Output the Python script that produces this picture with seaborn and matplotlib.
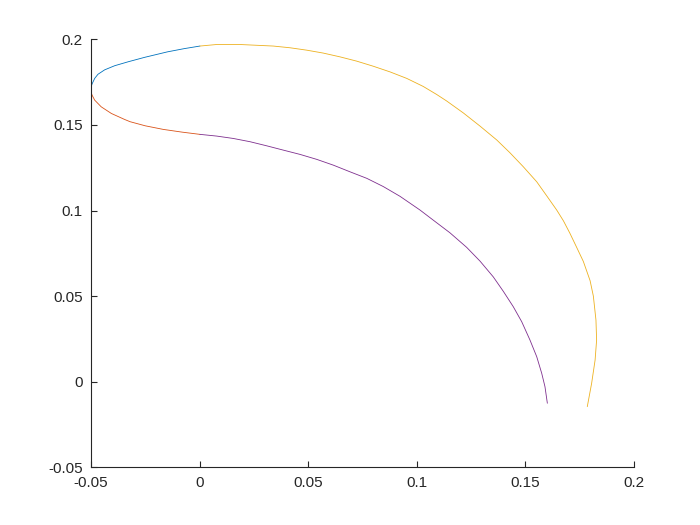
import numpy as np
import pandas as pd
import matplotlib
matplotlib.use("Agg")
import matplotlib.pyplot as plt
import matplotlib.ticker as mticker
import seaborn as sns

# Curve samples (x, y), in drawing order
blue_x = [-0.0500, -0.0495, -0.0483, -0.0468, -0.0437, -0.0391, -0.0329,
          -0.0253, -0.0148, -0.0070, 0.0002]
blue_y = [0.1721, 0.1740, 0.1772, 0.1796, 0.1822, 0.1846, 0.1869,
          0.1895, 0.1927, 0.1946, 0.1961]

orange_x = [-0.0500, -0.0495, -0.0483, -0.0453, -0.0406, -0.0345, -0.0320,
            -0.0250, -0.0167, -0.0080, 0.0002]
orange_y = [0.1692, 0.1674, 0.1645, 0.1606, 0.1567, 0.1532, 0.1519,
            0.1495, 0.1474, 0.1458, 0.1445]

yellow_x = [0.0002, 0.0079, 0.0187, 0.0340, 0.0417, 0.0494, 0.0570, 0.0647,
            0.0724, 0.0801, 0.0878, 0.0955, 0.1031, 0.1093, 0.1139, 0.1216,
            0.1293, 0.1370, 0.1431, 0.1492, 0.1554, 0.1600, 0.1646, 0.1677,
            0.1707, 0.1738, 0.1769, 0.1800, 0.1815, 0.1827, 0.1830, 0.1823,
            0.1807, 0.1787]
yellow_y = [0.1961, 0.1970, 0.1970, 0.1961, 0.1951, 0.1937, 0.1920, 0.1898,
            0.1873, 0.1843, 0.1810, 0.1772, 0.1725, 0.1678, 0.1640, 0.1570,
            0.1493, 0.1412, 0.1337, 0.1256, 0.1168, 0.1086, 0.1003, 0.0940,
            0.0867, 0.0785, 0.0702, 0.0590, 0.0500, 0.0360, 0.0243, 0.0126,
            -0.0010, -0.0146]

purple_x = [0.0002, 0.0079, 0.0156, 0.0233, 0.0310, 0.0386, 0.0463, 0.0540,
            0.0617, 0.0694, 0.0771, 0.0847, 0.0924, 0.1016, 0.1077, 0.1154,
            0.1231, 0.1293, 0.1354, 0.1400, 0.1446, 0.1485, 0.1523, 0.1554,
            0.1577, 0.1592, 0.1603]
purple_y = [0.1445, 0.1435, 0.1421, 0.1402, 0.1378, 0.1353, 0.1328, 0.1299,
            0.1265, 0.1226, 0.1188, 0.1140, 0.1083, 0.1003, 0.0944, 0.0870,
            0.0785, 0.0704, 0.0612, 0.0528, 0.0438, 0.0350, 0.0243, 0.0146,
            0.0049, -0.0029, -0.0126]

COLORS = ["#0072BD", "#D95319", "#EDB120", "#7E2F8E"]

sns.set_style("ticks")
plt.rcParams["font.family"] = ["Liberation Sans", "DejaVu Sans"]

fig = plt.figure(figsize=(7, 5.25), dpi=100)
ax = fig.add_axes([0.13, 0.11, 0.775, 0.815])

curvas = [(blue_x, blue_y), (orange_x, orange_y), (yellow_x, yellow_y), (purple_x, purple_y)]
for (xs, ys), cor in zip(curvas, COLORS):
    sns.lineplot(x=xs, y=ys, sort=False, estimator=None, color=cor,
                 linewidth=0.6, ax=ax)

ax.set_xlim(-0.05, 0.2)
ax.set_ylim(-0.05, 0.2)
ticks = [-0.05, 0, 0.05, 0.1, 0.15, 0.2]
ax.set_xticks(ticks)
ax.set_yticks(ticks)
fmt = mticker.FuncFormatter(lambda v, p: f"{v:g}")
ax.xaxis.set_major_formatter(fmt)
ax.yaxis.set_major_formatter(fmt)

for lado in ["top", "right"]:
    ax.spines[lado].set_visible(False)
for lado in ["left", "bottom"]:
    ax.spines[lado].set_color("#262626")
    ax.spines[lado].set_linewidth(0.8)

ax.tick_params(direction="in", length=4, width=0.8, color="#262626",
               labelsize=11, labelcolor="#262626", pad=6)

fig.savefig("out.png", dpi=100)
